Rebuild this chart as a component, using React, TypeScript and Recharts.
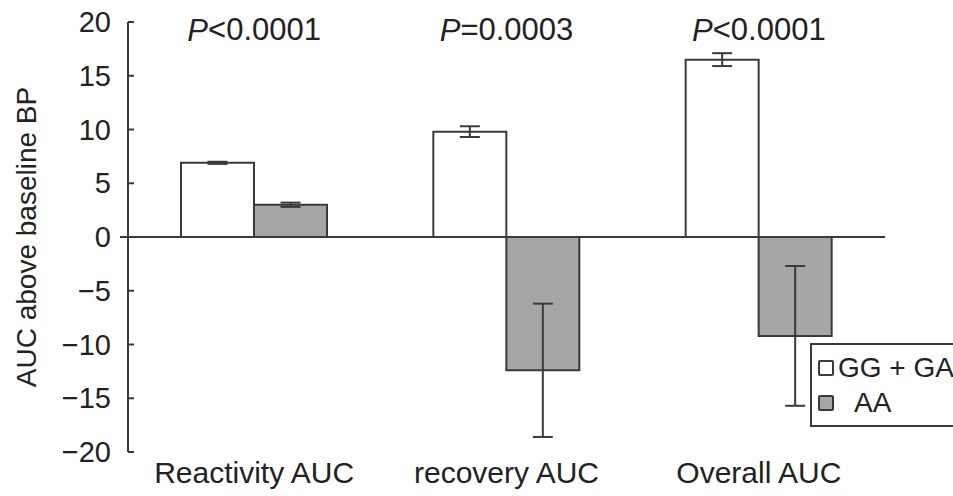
import { BarChart, Bar, XAxis, YAxis, ErrorBar, ReferenceLine, ReferenceDot, Legend } from "recharts";

const categories = ["Reactivity AUC", "recovery AUC", "Overall AUC"];
const ggValues = [6.9, 9.8, 16.5];
const ggErrors = [0.1, 0.5, 0.6];
const aaValues = [3.0, -12.4, -9.2];
const aaErrors = [0.2, 6.2, 6.5];
const pLabels = ["<0.0001", "=0.0003", "<0.0001"];
const yTicks = [-20, -15, -10, -5, 0, 5, 10, 15, 20];
const seriesOrder = ["gg", "aa"];

const data = categories.map((name, i) => ({
  name,
  gg: ggValues[i],
  ggErr: ggErrors[i],
  aa: aaValues[i],
  aaErr: aaErrors[i],
}));

const FONT = "'Liberation Sans', Arial, sans-serif";
const INK = "#3a3a3a";

const YTick = (props: any) => {
  const { x, y, payload } = props;
  const label = payload.value < 0 ? `\u2212${Math.abs(payload.value)}` : `${payload.value}`;
  return (
    <g>
      {payload.value === 0 ? (
        <line x1={x - 8} y1={y} x2={x} y2={y} stroke={INK} strokeWidth={2} />
      ) : (
        <line x1={x} y1={y} x2={x + 6} y2={y} stroke={INK} strokeWidth={2} />
      )}
      <text x={x - 17} y={y} textAnchor="end" dominantBaseline="central" fontSize={29} fill="#222" fontFamily={FONT}>
        {label}
      </text>
    </g>
  );
};

const PLabel = (text: string) => (props: any) => {
  const { viewBox } = props;
  const cx = viewBox.x + (viewBox.width || 0) / 2;
  return (
    <text x={cx} y={viewBox.y} textAnchor="middle" dominantBaseline="central" fontSize={31} fill="#222" fontFamily={FONT}>
      <tspan fontStyle="italic">P</tspan>
      {text}
    </text>
  );
};

const LegendBox = (props: any) => {
  const items = [...(props.payload || [])].sort(
    (a: any, b: any) => seriesOrder.indexOf(a.dataKey) - seriesOrder.indexOf(b.dataKey)
  );
  return (
    <div style={{ border: `2px solid ${INK}`, padding: "5px 0 5px 6px", background: "#fff", fontFamily: FONT, fontSize: 28, color: "#222", textAlign: "left" }}>
      {items.map((entry: any, i: number) => (
        <div key={`leg-${i}`} style={{ display: "flex", alignItems: "center", height: 35 }}>
          <span style={{ width: 12, height: 12, border: `2px solid ${INK}`, borderRadius: 2, background: entry.payload.fill, marginRight: i === 0 ? 4 : 20 }} />
          <span style={{ whiteSpace: "nowrap" }}>{entry.value}</span>
        </div>
      ))}
    </div>
  );
};

export default function App() {
  return (
    <div style={{ position: "absolute", left: 0, top: 0, width: 953, height: 496, background: "#fff", overflow: "hidden" }}>
      <BarChart width={953} height={496} data={data} margin={{ top: 22, right: 68, bottom: 0, left: 28 }} barGap={0} barSize={73}>
        <XAxis
          dataKey="name"
          height={44}
          axisLine={false}
          tickLine={false}
          tickSize={0}
          tickMargin={10}
          tick={{ fontSize: 30, fill: "#222", fontFamily: FONT }}
        />
        <YAxis
          domain={[-20, 20]}
          ticks={yTicks}
          width={100}
          tickLine={false}
          tickSize={0}
          tickMargin={0}
          axisLine={{ stroke: INK, strokeWidth: 2 }}
          tick={<YTick />}
          label={{
            value: "AUC above baseline BP",
            angle: -90,
            position: "insideLeft",
            dx: -7,
            style: { fontSize: 28, fill: "#222", fontFamily: FONT, textAnchor: "middle" },
          }}
        />
        <Legend
          layout="horizontal"
          verticalAlign="middle"
          align="center"
          content={<LegendBox />}
          wrapperStyle={{ left: 810, top: 343, width: 170 }}
        />
        <Bar dataKey="gg" name="GG + GA" fill="#ffffff" stroke={INK} strokeWidth={2} isAnimationActive={false}>
          <ErrorBar dataKey="ggErr" width={10} stroke={INK} strokeWidth={2} />
        </Bar>
        <Bar dataKey="aa" name="AA" fill="#a6a6a6" stroke={INK} strokeWidth={2} isAnimationActive={false}>
          <ErrorBar dataKey="aaErr" width={10} stroke={INK} strokeWidth={2} />
        </Bar>
        <ReferenceLine y={0} stroke={INK} strokeWidth={2} />
        {categories.map((c, i) => (
          <ReferenceDot key={`p-${i}`} x={c} y={19.3} r={0} stroke="none" fill="none" label={PLabel(pLabels[i])} />
        ))}
      </BarChart>
    </div>
  );
}
